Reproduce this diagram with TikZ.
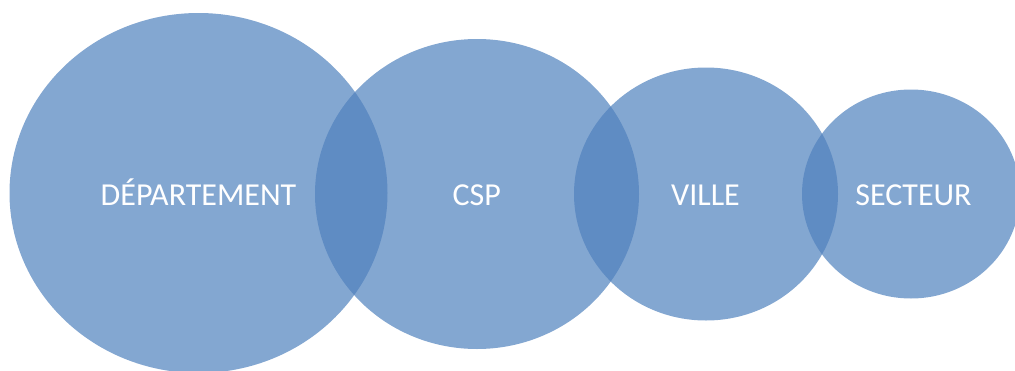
\documentclass[tikz,border=0pt]{standalone}
\usepackage{fontspec}
\setmainfont{Carlito}
\usetikzlibrary{shapes.geometric}
\definecolor{accent}{HTML}{4F81BD}
\tikzset{
  blob/.style={ellipse, fill=accent, fill opacity=0.7, draw=none, inner sep=0pt},
  lbl/.style={text=white, anchor=base, inner sep=0pt, font=\fontsize{32}{38}\selectfont}
}
\begin{document}
\begin{tikzpicture}[x=1pt,y=-1pt]
\useasboundingbox (0,0) rectangle (1015,370);
\clip (0,0) rectangle (1015,370);
\node[blob, minimum width=378pt, minimum height=360pt] (dep) at (198.5,193) {};
\node[blob, minimum width=324pt, minimum height=310pt] (csp) at (477,194) {};
\node[blob, minimum width=264pt, minimum height=253pt] (vil) at (706,194) {};
\node[blob, minimum width=218pt, minimum height=209pt] (sec) at (911,194) {};
\node[lbl] (tdep) at (198.5,205) {DÉPARTEMENT};
\node[lbl] (tcsp) at (476.7,205) {CSP};
\node[lbl] (tvil) at (705.5,205) {VILLE};
\node[lbl] (tsec) at (913.5,205) {SECTEUR};
\end{tikzpicture}
\end{document}
